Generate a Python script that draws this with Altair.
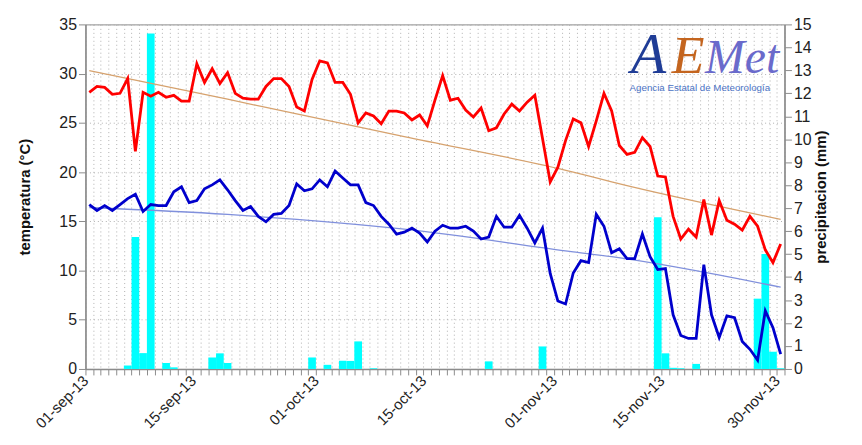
import altair as alt
import pandas as pd

# ---- data (01-sep-13 .. 30-nov-13, 91 days) ----
tmax = [28.1, 28.7, 28.6, 27.9, 28.0, 29.5, 22.1, 28.1, 27.7, 28.1,
        27.6, 27.8, 27.2, 27.2, 31.0, 29.1, 30.5, 29.0, 30.1, 28.0,
        27.5, 27.4, 27.4, 28.7, 29.5, 29.5, 28.7, 26.6, 26.2, 29.4,
        31.3, 31.1, 29.1, 29.1, 27.9, 25.0, 26.0, 25.7, 24.9, 26.2,
        26.2, 26.0, 25.3, 25.8, 24.7, 27.3, 29.8, 27.3, 27.5, 26.3,
        25.6, 26.5, 24.2, 24.5, 25.9, 26.9, 26.2, 27.1, 27.8, 23.4,
        19.0, 20.5, 23.2, 25.4, 25.0, 22.6, 25.2, 28.0, 26.2, 22.7,
        21.8, 22.0, 23.5, 22.6, 19.6, 19.5, 15.5, 13.2, 14.2, 13.4,
        17.2, 13.6, 17.1, 15.1, 14.7, 14.1, 15.5, 14.5, 12.1, 10.8,
        12.7]
tmin = [16.7, 16.1, 16.6, 16.1, 16.7, 17.3, 17.75, 16.0, 16.7, 16.6,
        16.6, 18.0, 18.5, 16.9, 17.1, 18.3, 18.7, 19.2, 18.2, 17.1,
        16.1, 16.5, 15.5, 14.95, 15.7, 15.8, 16.6, 18.8, 18.1, 18.3,
        19.2, 18.5, 20.1, 19.4, 18.7, 18.7, 16.9, 16.6, 15.5, 14.7,
        13.7, 13.9, 14.3, 13.8, 12.9, 14.0, 14.6, 14.3, 14.3, 14.5,
        14.0, 13.2, 13.4, 15.5, 14.4, 14.4, 15.6, 14.3, 12.8, 14.3,
        9.7, 6.9, 6.6, 9.75, 11.0, 10.8, 15.7, 14.5, 11.8, 12.2,
        11.2, 11.2, 13.7, 11.4, 10.1, 10.2, 5.5, 3.4, 3.1, 3.1,
        10.6, 5.5, 3.2, 5.4, 5.2, 2.8, 2.0, 0.9, 5.9, 4.2,
        1.5]
precip = [0, 0, 0, 0, 0, 0.15, 5.74, 0.69, 14.6, 0,
          0.26, 0.07, 0, 0, 0, 0, 0.5, 0.68, 0.26, 0,
          0, 0, 0, 0, 0, 0, 0, 0, 0, 0.5,
          0, 0.18, 0, 0.36, 0.35, 1.2, 0, 0.03, 0, 0,
          0, 0, 0, 0, 0, 0, 0, 0, 0, 0,
          0, 0, 0.33, 0, 0, 0, 0, 0, 0, 0.98,
          0, 0, 0, 0, 0, 0, 0, 0, 0, 0,
          0, 0, 0, 0, 6.6, 0.68, 0.05, 0.03, 0, 0.22,
          0, 0, 0, 0, 0, 0, 0, 3.06, 5.0, 0.75,
          0.03]
# climatological reference curves (read at a few days)
normal_days = [0, 18, 27, 41, 63, 68, 90]
normal_max = [30.3, 27.4, 25.9, 23.6, 20.0, 19.0, 15.2]
normal_min = [16.4, 15.7, 15.2, 14.2, 11.9, 11.4, 8.3]

tick_days = [0, 14, 30, 44, 61, 75, 90]
tick_labels = ["01-sep-13", "15-sep-13", "01-oct-13", "15-oct-13",
               "01-nov-13", "15-nov-13", "30-nov-13"]

n = len(tmax)
df = pd.DataFrame({"day": list(range(n)), "tmax": tmax, "tmin": tmin, "precip": precip})
df["mid"] = df["day"] + 0.5
df["end"] = df["day"] + 1
df["zero"] = 0.0
nd = pd.DataFrame({"day": normal_days, "nmax": normal_max, "nmin": normal_min})
nd["mid"] = nd["day"] + 0.5

label_expr = " : ".join(f"datum.value == {d} ? '{l}'" for d, l in zip(tick_days, tick_labels)) + " : ''"

FONT = "Liberation Sans"
AXC = "#8c8c8c"

xscale = alt.Scale(domain=[0, n], nice=False, zero=False)
xaxis = alt.Axis(values=list(range(n + 1)), labelExpr=label_expr, labelAngle=-45,
                 labelAlign="right", labelBaseline="middle", labelOverlap=False,
                 labelFontSize=15, labelFont=FONT, labelColor="#222", labelPadding=3,
                 tickSize=6, tickColor=AXC, domainColor=AXC, domainWidth=1.5,
                 grid=True, gridDash=[1, 3], gridColor="#b0b0b0", title=None)
x = alt.X("mid:Q", scale=xscale, axis=xaxis)

tscale = alt.Scale(domain=[0, 35], nice=False, zero=True)
taxis = alt.Axis(values=list(range(0, 36, 5)), orient="left", title="temperatura (°C)",
                 titleFont=FONT, titleFontSize=15, titleFontWeight="bold", titleColor="#111",
                 titlePadding=27, labelFontSize=16, labelFont=FONT, labelColor="#222",
                 tickSize=7, tickColor=AXC, domainColor=AXC, domainWidth=1.5,
                 grid=True, gridDash=[1, 3], gridColor="#b0b0b0")
pscale = alt.Scale(domain=[0, 15], nice=False, zero=True)
paxis = alt.Axis(values=list(range(0, 16)), orient="right", title="precipitacion (mm)",
                 titleAngle=270, titleFont=FONT, titleFontSize=15, titleFontWeight="bold",
                 titleColor="#111", titlePadding=18, labelFontSize=16, labelFont=FONT,
                 labelColor="#222", tickSize=7, tickColor=AXC, domainColor=AXC,
                 domainWidth=1.5, grid=False)

base = alt.Chart(df)

bars = base.mark_rect(color="#00FFFF").encode(
    x=alt.X("day:Q", scale=xscale, axis=xaxis),
    x2="end:Q",
    y=alt.Y("precip:Q", scale=pscale, axis=paxis),
    y2="zero:Q",
)

nbase = alt.Chart(nd)
trend_max = nbase.mark_line(color="#D6A26E", strokeWidth=1.3, interpolate="monotone").encode(
    x=x, y=alt.Y("nmax:Q", scale=tscale, axis=taxis))
trend_min = nbase.mark_line(color="#8090DC", strokeWidth=1.3, interpolate="monotone").encode(
    x=x, y=alt.Y("nmin:Q", scale=tscale, axis=taxis))
line_max = base.mark_line(color="#FF0000", strokeWidth=2.8).encode(
    x=x, y=alt.Y("tmax:Q", scale=tscale, axis=taxis))
line_min = base.mark_line(color="#0000CC", strokeWidth=2.8).encode(
    x=x, y=alt.Y("tmin:Q", scale=tscale, axis=taxis))

logo_df = pd.DataFrame({"t": ["x"]})
def logo_text(txt, px, py, size, color, font="Liberation Serif", style="italic", align="center"):
    return alt.Chart(logo_df).mark_text(
        text=txt, font=font, fontSize=size, fontStyle=style,
        color=color, align=align, baseline="alphabetic"
    ).encode(x=alt.value(px), y=alt.value(py))

logo = alt.layer(
    logo_text("A", 567, 49, 58, "#1F3C96"),
    logo_text("E", 607, 49, 54, "#C4651F"),
    logo_text("Met", 624, 49, 48, "#6A6ACB", align="left"),
    logo_text("Agencia Estatal de Meteorología", 548, 67, 9.8, "#4A72C4", font=FONT,
              style="normal", align="left"),
)

temps = alt.layer(trend_max, trend_min, line_max, line_min, logo)

chart = alt.layer(bars, temps).resolve_scale(y="independent").properties(
    width=704, height=347,
    autosize=alt.AutoSizeParams(type="none"),
    padding={"left": 78, "top": 15, "right": 70, "bottom": 66},
    background="white",
).configure_view(stroke=AXC, strokeWidth=1)

chart.save("out.html", embed_options={"renderer": "svg", "actions": False})
